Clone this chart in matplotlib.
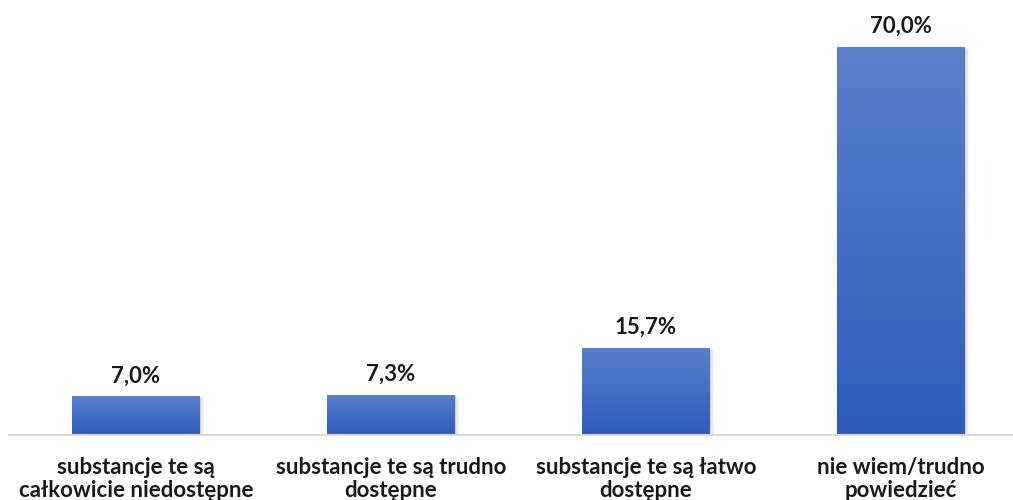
import matplotlib.pyplot as plt
import numpy as np
from matplotlib.colors import LinearSegmentedColormap
from matplotlib.patches import Rectangle

categories = [
    "substancje te są\ncałkowicie niedostępne",
    "substancje te są trudno\ndostępne",
    "substancje te są łatwo\ndostępne",
    "nie wiem/trudno\npowiedzieć",
]
values = [7.0, 7.3, 15.7, 70.0]
value_labels = ["7,0%", "7,3%", "15,7%", "70,0%"]

plt.rcParams["font.family"] = ["Lato", "DejaVu Sans"]

fig = plt.figure(figsize=(10.13, 5.0), dpi=100)
ax = fig.add_axes([8.5 / 1013, 65 / 500, 1020 / 1013, 388 / 500])

x = np.arange(len(values))
bars = ax.bar(x, values, width=0.5, color="none", zorder=3)

cmap = LinearSegmentedColormap.from_list("grad", ["#2c5cbc", "#5b80cc"])
grad = np.linspace(0, 1, 256).reshape(-1, 1)
for b in bars:
    x0, w, h = b.get_x(), b.get_width(), b.get_height()
    # soft shadow
    for k, a in enumerate([0.10, 0.06, 0.03]):
        off = 0.006 * (k + 1)
        ax.add_patch(Rectangle((x0 + off, 0), w, h - 0.1 * (k + 1),
                               facecolor="#000000", alpha=a, lw=0, zorder=2))
    im = ax.imshow(grad, extent=[x0, x0 + w, 0, h], origin="lower",
                   cmap=cmap, aspect="auto", zorder=3)
    im.set_clip_path(b)

for xi, v, lab in zip(x, values, value_labels):
    ax.text(xi, v + 1.8, lab, ha="center", va="bottom", fontsize=16,
            fontweight="bold", color="#1a1a1a")

ax.set_xlim(-0.5, 3.5)
ax.set_ylim(0, 70)
ax.set_xticks(x)
ax.set_xticklabels(categories, fontsize=16, fontweight="bold", color="#1a1a1a",
                   linespacing=1.1)
ax.tick_params(axis="x", length=0, pad=16)
ax.set_yticks([])
for s in ["top", "right", "left"]:
    ax.spines[s].set_visible(False)
ax.spines["bottom"].set_color("#d9d9d9")
ax.spines["bottom"].set_linewidth(1.5)
ax.spines["bottom"].set_zorder(4)

fig.savefig("out.png", dpi=100)
